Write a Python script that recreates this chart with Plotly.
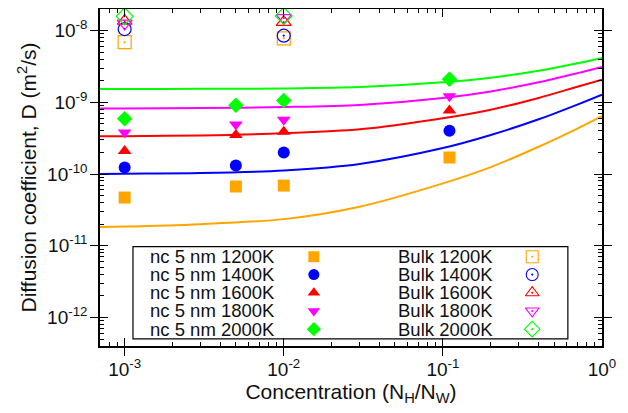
import math
import plotly.graph_objects as go

# ---------------- data ----------------
temps = ["1200K", "1400K", "1600K", "1800K", "2000K"]
colors = ["#FFA500", "#0000FF", "#FF0000", "#FF00FF", "#00FF00"]
nc_symbols = ["square", "circle", "triangle-up", "triangle-down", "diamond"]
bulk_symbols = ["square-open-dot", "circle-open-dot", "triangle-up-open-dot",
                "triangle-down-open-dot", "diamond-open-dot"]

# nanocrystal (nc 5 nm) data
nc_x = [1e-3, 5e-3, 1e-2, 0.11]
nc_1200 = [4.7e-11, 6.7e-11, 6.9e-11, 1.7e-10]
nc_1400 = [1.23e-10, 1.31e-10, 2.0e-10, 4.0e-10]
nc_1600 = [2.1e-10, 3.5e-10, 3.9e-10, 7.7e-10]
nc_1800 = [3.8e-10, 4.9e-10, 5.7e-10, 1.21e-9]
nc_2000 = [5.9e-10, 9.1e-10, 1.06e-9, 2.1e-9]

# bulk data
bulk_x = [1e-3, 1e-2]
bulk_1200 = [6.9e-9, 7.8e-9]
bulk_1400 = [1.05e-8, 8.5e-9]
bulk_1600 = [1.36e-8, 1.31e-8]
bulk_1800 = [1.26e-8, 1.5e-8]
bulk_2000 = [1.58e-8, 1.6e-8]

# fitted curves
fit_x = [7e-4, 1e-3, 3e-3, 1e-2, 3e-2, 0.1, 0.2, 0.4, 0.7, 1.0]
fit_1200 = [1.83e-11, 1.85e-11, 2.0e-11, 2.35e-11, 3.5e-11, 7.4e-11, 1.25e-10, 2.4e-10, 4.3e-10, 6.4e-10]
fit_1400 = [1.0e-10, 1.01e-10, 1.03e-10, 1.12e-10, 1.38e-10, 2.3e-10, 3.5e-10, 5.8e-10, 9.3e-10, 1.28e-9]
fit_1600 = [3.36e-10, 3.37e-10, 3.45e-10, 3.7e-10, 4.2e-10, 6.0e-10, 7.9e-10, 1.15e-9, 1.65e-9, 2.07e-9]
fit_1800 = [8.2e-10, 8.2e-10, 8.3e-10, 8.6e-10, 9.2e-10, 1.15e-9, 1.42e-9, 1.9e-9, 2.55e-9, 3.12e-9]
fit_2000 = [1.53e-9, 1.53e-9, 1.54e-9, 1.56e-9, 1.63e-9, 1.9e-9, 2.2e-9, 2.75e-9, 3.5e-9, 4.16e-9]

x_tickvals = [1e-3, 1e-2, 1e-1, 1]
x_ticktext = ["10<sup>-3</sup>", "10<sup>-2</sup>", "10<sup>-1</sup>", "10<sup>0</sup>"]
y_tickvals = [1e-12, 1e-11, 1e-10, 1e-9, 1e-8]
y_ticktext = ["10<sup>-12</sup>", "10<sup>-11</sup>", "10<sup>-10</sup>", "10<sup>-9</sup>", "10<sup>-8</sup>"]

X_RANGE = [math.log10(7e-4), 0]
Y_RANGE = [math.log10(4e-13), math.log10(2e-8)]
x_minor = [math.log10(m) + e for e in (-4, -3, -2, -1) for m in range(2, 10)]
y_minor = [math.log10(m) + e for e in (-13, -12, -11, -10, -9, -8) for m in range(2, 10)]

nc_all = [nc_1200, nc_1400, nc_1600, nc_1800, nc_2000]
bulk_all = [bulk_1200, bulk_1400, bulk_1600, bulk_1800, bulk_2000]
fit_all = [fit_1200, fit_1400, fit_1600, fit_1800, fit_2000]

FONT = "Liberation Sans, Arial, sans-serif"
TXT = "#111"

fig = go.Figure()

# empty helper traces so the minor-tick overlay axes get drawn
fig.add_trace(go.Scatter(x=[None], y=[None], xaxis="x3", yaxis="y", showlegend=False,
                         hoverinfo="skip", mode="markers"))
fig.add_trace(go.Scatter(x=[None], y=[None], xaxis="x", yaxis="y3", showlegend=False,
                         hoverinfo="skip", mode="markers"))

for i in range(5):
    fig.add_trace(go.Scatter(x=fit_x, y=fit_all[i], mode="lines",
                             line=dict(color=colors[i], width=2, shape="spline", smoothing=0.8),
                             showlegend=False, hoverinfo="skip"))
for i in range(5):
    fig.add_trace(go.Scatter(x=nc_x, y=nc_all[i], mode="markers",
                             marker=dict(symbol=nc_symbols[i], color=colors[i], size=12,
                                         line=dict(width=0)),
                             showlegend=False))
for i in range(5):
    fig.add_trace(go.Scatter(x=bulk_x, y=bulk_all[i], mode="markers",
                             marker=dict(symbol=bulk_symbols[i], color=colors[i], size=13,
                                         line=dict(width=1.2, color=colors[i])),
                             showlegend=False))

# ---- custom legend (gnuplot style: text then symbol) ----
row_y = [0.265, 0.212, 0.158, 0.104, 0.050]
for i in range(5):
    fig.add_trace(go.Scatter(x=[0.426], y=[row_y[i]], xaxis="x2", yaxis="y2", mode="markers",
                             marker=dict(symbol=nc_symbols[i], color=colors[i], size=11,
                                         line=dict(width=0)),
                             showlegend=False, hoverinfo="skip"))
    fig.add_trace(go.Scatter(x=[0.861], y=[row_y[i]], xaxis="x2", yaxis="y2", mode="markers",
                             marker=dict(symbol=bulk_symbols[i], color=colors[i], size=12,
                                         line=dict(width=1.1, color=colors[i])),
                             showlegend=False, hoverinfo="skip"))
    fig.add_annotation(x=0.353, y=row_y[i], xref="paper", yref="paper", xanchor="right",
                       yanchor="middle", text="nc 5 nm " + temps[i], showarrow=False,
                       font=dict(family=FONT, size=18.5, color=TXT))
    fig.add_annotation(x=0.787, y=row_y[i], xref="paper", yref="paper", xanchor="right",
                       yanchor="middle", text="Bulk " + temps[i], showarrow=False,
                       font=dict(family=FONT, size=18.5, color=TXT))

fig.add_shape(type="rect", xref="paper", yref="paper", x0=0.0657, x1=0.932, y0=0.021, y1=0.295,
              line=dict(color="black", width=1.2), fillcolor="white", layer="below")

axis_common = dict(showline=True, linecolor="black", linewidth=1.5, mirror="allticks",
                   ticks="inside", ticklen=8, tickwidth=1.2, tickcolor="black",
                   showgrid=False, zeroline=False, automargin=False,
                   tickfont=dict(family=FONT, size=19, color=TXT))
minor_common = dict(type="linear", ticks="inside", ticklen=4, tickwidth=1, tickcolor="black",
                    showticklabels=False, showgrid=False, zeroline=False, showline=False,
                    mirror="ticks", automargin=False, tickmode="array", visible=True)

# page body has an 8px margin, so the figure is 8px smaller than the window
fig.update_layout(
    width=620, height=405,
    margin=dict(l=92, r=26, t=1, b=67),
    plot_bgcolor="white", paper_bgcolor="white",
    font=dict(family=FONT, size=18, color=TXT),
    xaxis=dict(type="log", range=X_RANGE, tickvals=x_tickvals, ticktext=x_ticktext,
               ticklabelstandoff=5,
               title=dict(text="Concentration (N<sub>H</sub>/N<sub>W</sub>)",
                          font=dict(family=FONT, size=21, color=TXT), standoff=5),
               **axis_common),
    yaxis=dict(type="log", range=Y_RANGE, tickvals=y_tickvals, ticktext=y_ticktext,
               ticklabelstandoff=7,
               title=dict(text="Diffusion coefficient, D (m<sup>2</sup>/s)",
                          font=dict(family=FONT, size=21, color=TXT), standoff=5),
               **axis_common),
    xaxis2=dict(overlaying="x", range=[0, 1], visible=False, anchor="y2"),
    yaxis2=dict(overlaying="y", range=[0, 1], visible=False, anchor="x2"),
    xaxis3=dict(overlaying="x", anchor="y", side="bottom", range=X_RANGE, tickvals=x_minor,
                **minor_common),
    yaxis3=dict(overlaying="y", anchor="x", side="left", range=Y_RANGE, tickvals=y_minor,
                **minor_common),
)

fig.write_html("out.html")
